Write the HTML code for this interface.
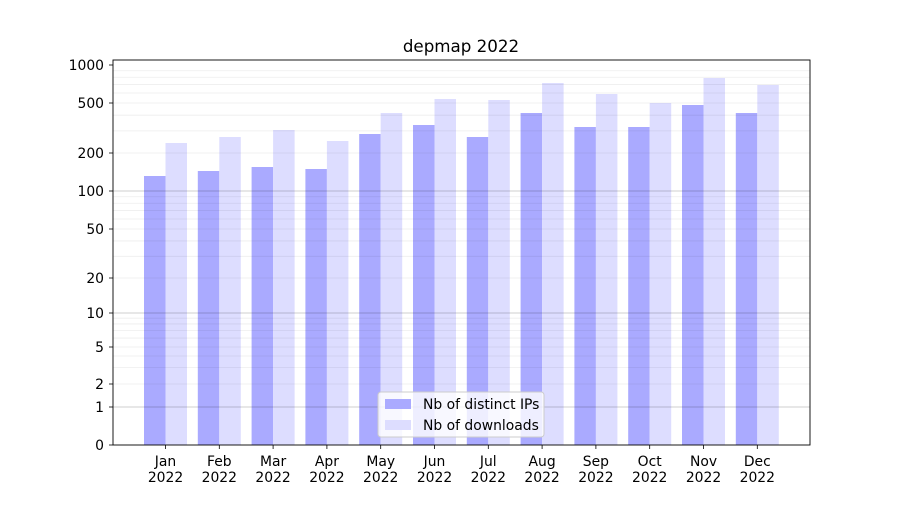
<!DOCTYPE html>
<html><head><meta charset="utf-8"><style>
body{margin:0;background:#fff}
svg{font-family:"DejaVu Sans","Liberation Sans",sans-serif}
</style></head><body>
<svg id="s" width="900" height="500" xmlns="http://www.w3.org/2000/svg"></svg>
<script>
var pts=[[0,445],[1,407],[2,384],[5,347],[10,313],[20,278],[50,229],[100,191],[200,153],[500,103],[1000,65]];
function Y(v){
 if(v<=1)return 445-38*v;
 for(var i=1;i<pts.length-1;i++){var a=pts[i],b=pts[i+1];
  if(v<=b[0]){var t=(Math.log(v)-Math.log(a[0]))/(Math.log(b[0])-Math.log(a[0]));return a[1]+t*(b[1]-a[1]);}}
 return 65;
}
var h='';
h+='<text x="461" y="52" font-size="16.7" text-anchor="middle">depmap 2022</text>';
var dark=[176,171,167,169,134,125,137,113,127,127,105,113];
var light=[143,137,130,141,113,99,100,83,94,103,78,85];
var mon=['Jan','Feb','Mar','Apr','May','Jun','Jul','Aug','Sep','Oct','Nov','Dec'];
for(var i=0;i<12;i++){var c=165.5+i*53.8;
 h+='<rect x="'+(c-21.5)+'" y="'+dark[i]+'" width="21.5" height="'+(445-dark[i])+'" fill="#aaaaff"/>';
 h+='<rect x="'+c+'" y="'+light[i]+'" width="21.5" height="'+(445-light[i])+'" fill="#ddddff"/>';
 h+='<line x1="'+c+'" x2="'+c+'" y1="445" y2="449" stroke="#000" stroke-width="0.8"/>';
 h+='<text x="'+c+'" y="466" font-size="13.9" text-anchor="middle">'+mon[i]+'</text>';
 h+='<text x="'+c+'" y="482" font-size="13.9" text-anchor="middle">2022</text>';
}
[1,10,100].forEach(function(d){for(var k=2;k<=9;k++){var v=d*k;var y=Y(v);h+='<line x1="113" x2="810" y1="'+y+'" y2="'+y+'" stroke="rgba(0,0,0,0.07)" stroke-width="0.8"/>';}});
[1,10,100].forEach(function(v){var y=Y(v);h+='<line x1="113" x2="810" y1="'+y+'" y2="'+y+'" stroke="rgba(0,0,0,0.25)" stroke-width="0.8"/>';});
[[0,'0'],[1,'1'],[2,'2'],[5,'5'],[10,'10'],[20,'20'],[50,'50'],[100,'100'],[200,'200'],[500,'500'],[1000,'1000']].forEach(function(p){var y=Y(p[0]);
 h+='<line x1="109" x2="113" y1="'+y+'" y2="'+y+'" stroke="#000" stroke-width="0.8"/>';
 h+='<text x="104" y="'+(y+5)+'" font-size="13.9" text-anchor="end">'+p[1]+'</text>';});
h+='<rect x="113" y="60" width="697" height="385" fill="none" stroke="#000" stroke-width="0.9"/>';
h+='<rect x="378" y="392" width="166" height="45" rx="3" fill="#fff" fill-opacity="0.8" stroke="#ccc"/>';
h+='<rect x="385" y="399" width="26" height="10" fill="#aaaaff"/><text x="423" y="409" font-size="13.9">Nb of distinct IPs</text>';
h+='<rect x="385" y="420" width="26" height="10" fill="#ddddff"/><text x="423" y="430" font-size="13.9">Nb of downloads</text>';
document.getElementById('s').innerHTML=h;
</script>
</body></html>
